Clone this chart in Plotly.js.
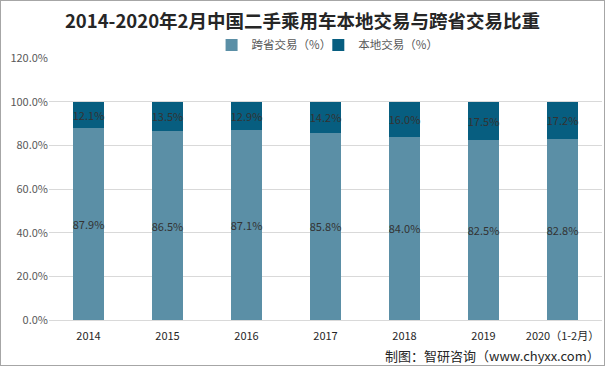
<!DOCTYPE html>
<html><head><meta charset="utf-8">
<script src="https://cdn.plot.ly/plotly-3.0.1.min.js"></script>
<style>
html,body{margin:0;padding:0;background:#fff;}
#wrap{position:relative;width:605px;height:366px;}
#chart{width:605px;height:366px;}
#frame{position:absolute;left:0;top:0;width:603px;height:364px;border:1px solid #a6a6a6;pointer-events:none;}
</style></head>
<body>
<div id="wrap"><div id="chart"></div><div id="frame"></div></div>
<script>
const categories = ['2014','2015','2016','2017','2018','2019','2020（1-2月）'];
const crossProvince = [87.9, 86.5, 87.1, 85.8, 84.0, 82.5, 82.8];
const local = [12.1, 13.5, 12.9, 14.2, 16.0, 17.5, 17.2];
const seriesNames = ['跨省交易（%）', '本地交易（%）'];
const yTickVals = [0, 20, 40, 60, 80, 100, 120];
const yTickText = ['0.0%', '20.0%', '40.0%', '60.0%', '80.0%', '100.0%', '120.0%'];

const font = '"Microsoft YaHei", "Noto Sans CJK SC", "Noto Sans", sans-serif';
const common = {
  type: 'bar', x: categories, width: 0.39,
  texttemplate: '%{y:.1f}%', textposition: 'inside', insidetextanchor: 'middle',
  constraintext: 'none', textangle: 0,
  textfont: {family: font, size: 11, color: '#333333'},
  hoverinfo: 'skip'
};
const data = [
  Object.assign({}, common, {name: seriesNames[0], y: crossProvince, marker: {color: '#5b8fa6'}, legend: 'legend'}),
  Object.assign({}, common, {name: seriesNames[1], y: local, marker: {color: '#075e80'}, legend: 'legend2'})
];
const legendBase = {orientation: 'h', xanchor: 'left', y: 1.05, yanchor: 'middle',
  font: {family: font, size: 11.5, color: '#595959'}, itemwidth: 30, bgcolor: 'rgba(0,0,0,0)'};
const layout = {
  width: 605, height: 366,
  margin: {l: 49, r: 3, t: 58, b: 46},
  paper_bgcolor: '#ffffff', plot_bgcolor: '#ffffff',
  barmode: 'stack',
  font: {family: font, size: 11, color: '#595959'},
  title: {text: '<b>2014-2020年2月中国二手乘用车本地交易与跨省交易比重</b>',
    font: {family: font, size: 18.5, color: '#262626'}, x: 0.5, xanchor: 'center', y: 0.94, yanchor: 'middle'},
  showlegend: true,
  legend: Object.assign({}, legendBase, {x: 0.294}),
  legend2: Object.assign({}, legendBase, {x: 0.487}),
  xaxis: {type: 'category', tickfont: {family: font, size: 11, color: '#262626'},
    showgrid: false, showline: false, ticks: '', ticklen: 0, ticklabelstandoff: 8},
  yaxis: {range: [0, 120], tickmode: 'array', tickvals: yTickVals, ticktext: yTickText,
    showgrid: true, gridcolor: '#d9d9d9', gridwidth: 1, zeroline: true, zerolinecolor: '#d9d9d9',
    tickfont: {family: font, size: 11, color: '#595959'}, ticks: '', showline: false},
  annotations: [{text: '制图：智研咨询（www.chyxx.com）', xref: 'paper', yref: 'paper',
    x: 1, xanchor: 'right', y: -0.135, yanchor: 'middle', showarrow: false,
    font: {family: font, size: 13, color: '#262626'}}]
};
Plotly.newPlot('chart', data, layout, {displayModeBar: false, staticPlot: true});
</script>
</body></html>
